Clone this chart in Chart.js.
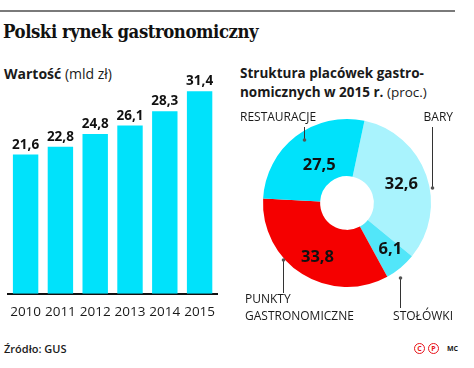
<!DOCTYPE html>
<html><head><meta charset="utf-8">
<script src="https://cdn.jsdelivr.net/npm/chart.js@4/dist/chart.umd.min.js"></script>
<style>
html,body{margin:0;padding:0;background:#fff;}
body{width:474px;height:368px;position:relative;overflow:hidden;font-family:"Open Sans",sans-serif;color:#1a1a1a;}
.abs{position:absolute;white-space:nowrap;}
#rule{left:0;top:10px;width:455px;height:2px;background:#7a7a7a;}
#title{left:3px;top:20px;font-family:"DejaVu Serif",serif;font-weight:bold;font-size:19px;letter-spacing:-0.5px;color:#111;transform:scaleX(0.87);transform-origin:0 0;}
#sub1{left:4px;top:64px;font-size:14px;}
#sub2{left:240px;top:64px;font-size:13.5px;line-height:19px;}
#src{left:4px;top:341px;font-size:11px;font-weight:600;}
.ic{top:343px;width:9px;height:9px;border:1.6px solid #e8141b;border-radius:50%;color:#e8141b;font:bold 7px/9px "Open Sans",sans-serif;text-align:center;}
#mc{left:447px;top:344px;font-size:7px;font-weight:bold;}
canvas{position:absolute;}
</style></head>
<body>
<div class="abs" id="rule"></div>
<div class="abs" id="title">Polski rynek gastronomiczny</div>
<div class="abs" id="sub1"><b>Wartość</b> (mld zł)</div>
<div class="abs" id="sub2"><b>Struktura placówek gastro-</b><br><b>nomicznych w 2015 r.</b> (proc.)</div>
<div class="abs" id="src">Źródło: GUS</div>
<div class="abs ic" style="left:414px">C</div>
<div class="abs ic" style="left:428px">P</div>
<div class="abs" id="mc">MC</div>
<canvas id="bar" style="left:0;top:0;width:230px;height:368px" width="230" height="368"></canvas>
<canvas id="pie" style="left:230px;top:100px;width:244px;height:230px" width="244" height="230"></canvas>
<script>
const years = ["2010","2011","2012","2013","2014","2015"];
const values = [21.6, 22.8, 24.8, 26.1, 28.3, 31.4];
const segments = ["BARY","STOŁÓWKI","PUNKTY GASTRONOMICZNE","RESTAURACJE"];
const shares = [32.6, 6.1, 33.8, 27.5];

const fmt = v => v.toFixed(1).replace('.', ',');
const CYAN = '#00E2FB';

const barLabels = {
  id:'barLabels',
  afterDatasetsDraw(chart){
    const ctx = chart.ctx;
    const meta = chart.getDatasetMeta(0);
    ctx.save();
    ctx.font = 'bold 13.5px "Open Sans", sans-serif';
    ctx.fillStyle = '#111';
    ctx.textAlign = 'center';
    ctx.textBaseline = 'bottom';
    meta.data.forEach((el,i)=>{
      ctx.fillText(fmt(values[i]), el.x, el.y - 3);
    });
    ctx.restore();
  }
};

new Chart(document.getElementById('bar'), {
  type:'bar',
  data:{labels:years, datasets:[{data:values, backgroundColor:CYAN, borderWidth:0, barPercentage:0.73, categoryPercentage:1}]},
  options:{
    responsive:false, animation:false,
    layout:{padding:{left:2, right:13, top:81, bottom:38}},
    plugins:{legend:{display:false}, tooltip:{enabled:false}},
    scales:{
      x:{grid:{display:false, drawTicks:false}, border:{display:true, color:'#111', width:2},
         ticks:{color:'#1a1a1a', font:{family:'"Open Sans", sans-serif', size:13.5}, padding:10, maxRotation:0, minRotation:0, autoSkip:false}},
      y:{display:false, min:0, max:33}
    }
  },
  plugins:[barLabels]
});

// donut annotations (styling offsets relative to the centre, in px)
const valueNudge = [[2,0],[8,4],[0,7],[6,6]];
const valueFont = [16.5,16.5,16.5,16.5];
const leaders = [
  {x:85, y1:-76, y2:-15, text:['BARY'], tx:106, ty:-85, align:'right'},
  {x:53, y1:75, y2:105, text:['STOŁÓWKI'], tx:106, ty:114, align:'right'},
  {x:-64, y1:57, y2:90, text:['PUNKTY','GASTRONOMICZNE'], tx:-102, ty:97, align:'left'},
  {x:-43, y1:-76, y2:-63, text:['RESTAURACJE'], tx:-107, ty:-85, align:'left'}
];

const pieLabels = {
  id:'pieLabels',
  afterDatasetsDraw(chart){
    const ctx = chart.ctx;
    const meta = chart.getDatasetMeta(0);
    const cx = meta.data[0].x, cy = meta.data[0].y;
    ctx.save();
    ctx.fillStyle = '#111';
    ctx.textAlign = 'center';
    ctx.textBaseline = 'middle';
    meta.data.forEach((el,i)=>{
      const p = el.tooltipPosition();
      ctx.font = 'bold '+valueFont[i]+'px "Open Sans", sans-serif';
      ctx.fillText(fmt(shares[i]), p.x + valueNudge[i][0], p.y + valueNudge[i][1]);
    });
    ctx.strokeStyle = '#333';
    ctx.lineWidth = 1;
    ctx.font = '12px "Open Sans", sans-serif';
    leaders.forEach(L=>{
      ctx.beginPath();
      ctx.moveTo(cx+L.x+0.5, cy+L.y1);
      ctx.lineTo(cx+L.x+0.5, cy+L.y2);
      ctx.stroke();
      ctx.beginPath();
      ctx.fillStyle = '#555';
      ctx.arc(cx+L.x+0.5, (L.y1 < 0 ? cy+L.y2 : cy+L.y1), 1.8, 0, Math.PI*2);
      ctx.fill();
      ctx.fillStyle = '#1a1a1a';
      ctx.textAlign = L.align;
      L.text.forEach((t,k)=>ctx.fillText(t, cx+L.tx, cy+L.ty+k*17));
    });
    ctx.restore();
  }
};

new Chart(document.getElementById('pie'), {
  type:'doughnut',
  data:{labels:segments, datasets:[{data:shares, backgroundColor:['#A9F3FD','#52E6F9','#F50000',CYAN], borderWidth:0}]},
  options:{
    responsive:false, animation:false, rotation:12, cutout:'32%',
    layout:{padding:{left:33, right:43, top:19, bottom:43}},
    plugins:{legend:{display:false}, tooltip:{enabled:false}}
  },
  plugins:[pieLabels]
});
</script>
</body></html>
